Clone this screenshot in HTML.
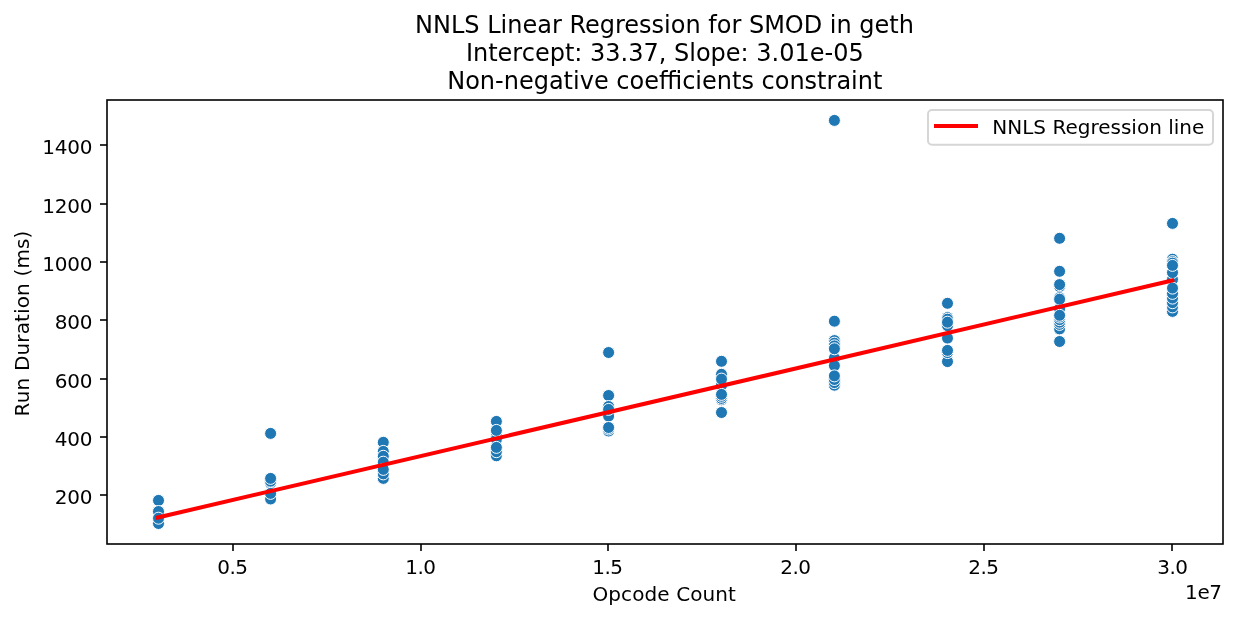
<!DOCTYPE html>
<html lang="en"><head><meta charset="utf-8"><title>NNLS Linear Regression for SMOD in geth</title>
<style>html,body{margin:0;padding:0;background:#fff}svg{display:block}text{font-family:"DejaVu Sans","Liberation Sans",sans-serif;fill:#000}</style></head><body>
<svg width="1237" height="618" viewBox="0 0 1237 618">
<rect width="1237" height="618" fill="#fff"/>
<g font-size="24" text-anchor="middle">
<text x="664.5" y="33">NNLS Linear Regression for SMOD in geth</text>
<text x="664.8" y="61">Intercept: 33.37, Slope: 3.01e-05</text>
<text x="664.8" y="89">Non-negative coefficients constraint</text>
</g>
<g fill="#1f77b4" stroke="#fff" stroke-width="1">
<circle cx="158.5" cy="500.4" r="6"/>
<circle cx="158.5" cy="523.5" r="6"/>
<circle cx="158.5" cy="511.5" r="6"/>
<circle cx="158.5" cy="518.2" r="6"/>
<circle cx="270.6" cy="433.4" r="6"/>
<circle cx="270.6" cy="499.0" r="6"/>
<circle cx="270.6" cy="482.9" r="6"/>
<circle cx="270.6" cy="481.2" r="6"/>
<circle cx="270.6" cy="493.4" r="6"/>
<circle cx="270.6" cy="478.4" r="6"/>
<circle cx="383.3" cy="442.3" r="6"/>
<circle cx="383.3" cy="478.4" r="6"/>
<circle cx="383.3" cy="451.4" r="6"/>
<circle cx="383.3" cy="473.9" r="6"/>
<circle cx="383.3" cy="456.3" r="6"/>
<circle cx="383.3" cy="462.2" r="6"/>
<circle cx="383.3" cy="469.4" r="6"/>
<circle cx="496.4" cy="421.4" r="6"/>
<circle cx="496.4" cy="455.8" r="6"/>
<circle cx="496.4" cy="451.7" r="6"/>
<circle cx="496.4" cy="436.3" r="6"/>
<circle cx="496.4" cy="439.2" r="6"/>
<circle cx="496.4" cy="430.4" r="6"/>
<circle cx="496.4" cy="447.4" r="6"/>
<circle cx="608.6" cy="352.5" r="6"/>
<circle cx="608.6" cy="395.5" r="6"/>
<circle cx="608.6" cy="431.0" r="6"/>
<circle cx="608.6" cy="429.0" r="6"/>
<circle cx="608.6" cy="406.5" r="6"/>
<circle cx="608.6" cy="411.5" r="6"/>
<circle cx="608.6" cy="416.1" r="6"/>
<circle cx="608.6" cy="409.4" r="6"/>
<circle cx="608.6" cy="427.5" r="6"/>
<circle cx="721.5" cy="361.3" r="6"/>
<circle cx="721.5" cy="412.5" r="6"/>
<circle cx="721.5" cy="374.3" r="6"/>
<circle cx="721.5" cy="399.8" r="6"/>
<circle cx="721.5" cy="398.4" r="6"/>
<circle cx="721.5" cy="396.3" r="6"/>
<circle cx="721.5" cy="385.2" r="6"/>
<circle cx="721.5" cy="379.1" r="6"/>
<circle cx="721.5" cy="394.4" r="6"/>
<circle cx="834.4" cy="120.4" r="6"/>
<circle cx="834.4" cy="321.2" r="6"/>
<circle cx="834.4" cy="385.2" r="6"/>
<circle cx="834.4" cy="382.6" r="6"/>
<circle cx="834.4" cy="379.5" r="6"/>
<circle cx="834.4" cy="340.6" r="6"/>
<circle cx="834.4" cy="343.2" r="6"/>
<circle cx="834.4" cy="345.9" r="6"/>
<circle cx="834.4" cy="358.1" r="6"/>
<circle cx="834.4" cy="365.7" r="6"/>
<circle cx="834.4" cy="348.8" r="6"/>
<circle cx="834.4" cy="375.9" r="6"/>
<circle cx="947.5" cy="303.3" r="6"/>
<circle cx="947.5" cy="361.6" r="6"/>
<circle cx="947.5" cy="317.6" r="6"/>
<circle cx="947.5" cy="319.2" r="6"/>
<circle cx="947.5" cy="325.7" r="6"/>
<circle cx="947.5" cy="352.6" r="6"/>
<circle cx="947.5" cy="338.1" r="6"/>
<circle cx="947.5" cy="322.2" r="6"/>
<circle cx="947.5" cy="350.4" r="6"/>
<circle cx="1059.6" cy="238.3" r="6"/>
<circle cx="1059.6" cy="341.5" r="6"/>
<circle cx="1059.6" cy="271.3" r="6"/>
<circle cx="1059.6" cy="328.9" r="6"/>
<circle cx="1059.6" cy="324.4" r="6"/>
<circle cx="1059.6" cy="322.2" r="6"/>
<circle cx="1059.6" cy="319.6" r="6"/>
<circle cx="1059.6" cy="317.0" r="6"/>
<circle cx="1059.6" cy="286.6" r="6"/>
<circle cx="1059.6" cy="284.6" r="6"/>
<circle cx="1059.6" cy="297.7" r="6"/>
<circle cx="1059.6" cy="308.8" r="6"/>
<circle cx="1059.6" cy="299.2" r="6"/>
<circle cx="1059.6" cy="315.3" r="6"/>
<circle cx="1172.5" cy="223.4" r="6"/>
<circle cx="1172.5" cy="311.4" r="6"/>
<circle cx="1172.5" cy="306.9" r="6"/>
<circle cx="1172.5" cy="302.7" r="6"/>
<circle cx="1172.5" cy="298.1" r="6"/>
<circle cx="1172.5" cy="293.4" r="6"/>
<circle cx="1172.5" cy="259.2" r="6"/>
<circle cx="1172.5" cy="261.6" r="6"/>
<circle cx="1172.5" cy="263.1" r="6"/>
<circle cx="1172.5" cy="279.4" r="6"/>
<circle cx="1172.5" cy="272.6" r="6"/>
<circle cx="1172.5" cy="265.4" r="6"/>
<circle cx="1172.5" cy="288.1" r="6"/>
</g>
<line x1="157.7" y1="517.5" x2="1172.3" y2="280.5" stroke="#f00" stroke-width="4" stroke-linecap="square"/>
<rect x="107.0" y="100.0" width="1116.0" height="444.0" fill="none" stroke="#000" stroke-width="1.6"/>
<g stroke="#000" stroke-width="1.6">
<line x1="233" y1="544.0" x2="233" y2="551.0"/>
<line x1="421" y1="544.0" x2="421" y2="551.0"/>
<line x1="608" y1="544.0" x2="608" y2="551.0"/>
<line x1="796" y1="544.0" x2="796" y2="551.0"/>
<line x1="984" y1="544.0" x2="984" y2="551.0"/>
<line x1="1172" y1="544.0" x2="1172" y2="551.0"/>
<line x1="100.0" y1="495.0" x2="107.0" y2="495.0"/>
<line x1="100.0" y1="437.0" x2="107.0" y2="437.0"/>
<line x1="100.0" y1="379.0" x2="107.0" y2="379.0"/>
<line x1="100.0" y1="320.0" x2="107.0" y2="320.0"/>
<line x1="100.0" y1="262.0" x2="107.0" y2="262.0"/>
<line x1="100.0" y1="204.0" x2="107.0" y2="204.0"/>
<line x1="100.0" y1="145.0" x2="107.0" y2="145.0"/>
</g>
<g font-size="20" text-anchor="middle">
<text x="232.7" y="574" textLength="30.8">0.5</text>
<text x="420.7" y="574" textLength="30.8">1.0</text>
<text x="607.7" y="574" textLength="30.8">1.5</text>
<text x="795.7" y="574" textLength="30.8">2.0</text>
<text x="983.7" y="574" textLength="30.8">2.5</text>
<text x="1172.7" y="574" textLength="30.8">3.0</text>
</g>
<g font-size="20" text-anchor="end">
<text x="92.4" y="503.6" textLength="37.6">200</text>
<text x="92.4" y="445.6" textLength="37.6">400</text>
<text x="92.4" y="387.6" textLength="37.6">600</text>
<text x="92.4" y="328.6" textLength="37.6">800</text>
<text x="92.4" y="270.6" textLength="50.1">1000</text>
<text x="92.4" y="212.6" textLength="50.1">1200</text>
<text x="92.4" y="153.6" textLength="50.1">1400</text>
<text x="1222" y="599" textLength="36.9">1e7</text>
</g>
<text font-size="20" text-anchor="middle" x="664.2" y="601" textLength="143.4">Opcode Count</text>
<text font-size="20" text-anchor="middle" textLength="185.8" transform="translate(29,323.5) rotate(-90)">Run Duration (ms)</text>
<rect x="928" y="110" width="285" height="34.8" rx="4" ry="4" fill="#fff" fill-opacity="0.8" stroke="#ccc" stroke-opacity="0.8" stroke-width="2"/>
<line x1="936" y1="126" x2="976" y2="126" stroke="#f00" stroke-width="4" stroke-linecap="square"/>
<text font-size="20" x="992.3" y="134">NNLS Regression line</text>
</svg></body></html>
